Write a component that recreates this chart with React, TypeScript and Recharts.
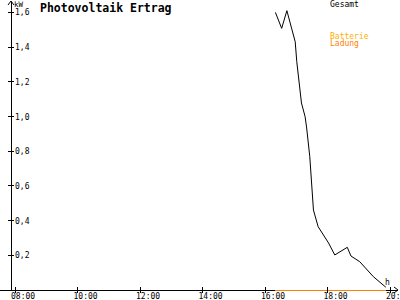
import React from "react";
import { LineChart, Line, XAxis, YAxis } from "recharts";

const times = ["16:20","16:32","16:42","16:52","16:58","17:01","17:10","17:17","17:20","17:26","17:33","17:42","18:02","18:14","18:38","18:45","19:02","19:28","19:52"];
const gesamt = [1.6,1.508,1.61,1.498,1.431,1.316,1.078,0.999,0.934,0.768,0.461,0.365,0.271,0.202,0.246,0.196,0.163,0.077,0.016];
const ladung = [0,0,0,0,0,0,0,0,0,0,0,0,0,0,0,0,0,0,0];

const xTicks = [8, 10, 12, 14, 16, 18, 20];
const xTickLabels = ["08:00", "10:00", "12:00", "14:00", "16:00", "18:00", "20:00"];
const yTicks = [0.2, 0.4, 0.6, 0.8, 1.0, 1.2, 1.4, 1.6];
const yTickLabels = ["0,2", "0,4", "0,6", "0,8", "1,0", "1,2", "1,4", "1,6"];

const toHours = (t: string) => {
  const [h, m] = t.split(":").map(Number);
  return h + m / 60;
};

const data = times.map((t, i) => ({ t: toHours(t), gesamt: gesamt[i], ladung: ladung[i] }));

const FONT = "'DejaVu Sans Mono', monospace";

const XTick = (props: any) => {
  const { x, y, payload } = props;
  const idx = xTicks.indexOf(payload.value);
  return (
    <g>
      <line x1={x} x2={x} y1={y - 3} y2={y + 3} stroke="#000" shapeRendering="crispEdges" />
      <text x={x - 4} y={y + 9} fontSize={8} fontFamily={FONT} textAnchor="start" fill="#000">
        {xTickLabels[idx]}
      </text>
    </g>
  );
};

const YTick = (props: any) => {
  const { x, y, payload } = props;
  const idx = yTicks.findIndex((v) => Math.abs(v - payload.value) < 1e-6);
  return (
    <g>
      <line x1={x - 3} x2={x + 3} y1={y} y2={y} stroke="#000" shapeRendering="crispEdges" />
      <text x={x + 4} y={y + 3} fontSize={8} fontFamily={FONT} textAnchor="start" fill="#000">
        {yTickLabels[idx]}
      </text>
    </g>
  );
};

export default function App() {
  return (
    <div style={{ position: "absolute", left: 0, top: 0, width: 400, height: 300, background: "#fff" }}>
      <svg width={400} height={300} style={{ position: "absolute", left: 0, top: 0 }}>
        <line x1={0} x2={398} y1={290} y2={290} stroke="#000" shapeRendering="crispEdges" />
        <polyline points="8,5 11,1 14,5" fill="none" stroke="#000" />
        <polyline points="394,287 398,290 394,293" fill="none" stroke="#000" />
        <text x={14} y={7} fontSize={7.5} fontFamily={FONT} fill="#000">kW</text>
        <text x={40} y={11.5} fontSize={11.5} fontWeight="bold" fontFamily={FONT} fill="#000">Photovoltaik Ertrag</text>
        <text x={330} y={7} fontSize={8} fontFamily={FONT} fill="#000">Gesamt</text>
        <text x={330} y={38.5} fontSize={8} fontFamily={FONT} fill="#ffb000">Batterie</text>
        <text x={330} y={46} fontSize={8} fontFamily={FONT} fill="#ff8000">Ladung</text>
        <text x={385} y={285} fontSize={8} fontFamily={FONT} fill="#000">h</text>
      </svg>
      <div style={{ position: "absolute", left: 0, top: 0 }}>
        <LineChart width={400} height={300} data={data} margin={{ top: 2, right: 2, bottom: 0, left: 0 }}>
          <XAxis
            dataKey="t"
            type="number"
            domain={[7.872, 20.256]}
            ticks={xTicks}
            interval={0}
            tick={<XTick />}
            tickLine={false}
            tickSize={0}
            tickMargin={0}
            height={10}
            axisLine={false}
          />
          <YAxis
            type="number"
            domain={[0, 1.66]}
            ticks={yTicks}
            interval={0}
            tick={<YTick />}
            tickLine={false}
            tickSize={0}
            tickMargin={0}
            width={11}
            axisLine={{ stroke: "#000", shapeRendering: "crispEdges" }}
          />
          <Line type="linear" dataKey="gesamt" stroke="#000" strokeWidth={1} dot={false} isAnimationActive={false} />
          <Line type="linear" dataKey="ladung" stroke="#ff8000" strokeWidth={1} dot={false} isAnimationActive={false} shapeRendering="crispEdges" />
        </LineChart>
      </div>
    </div>
  );
}
